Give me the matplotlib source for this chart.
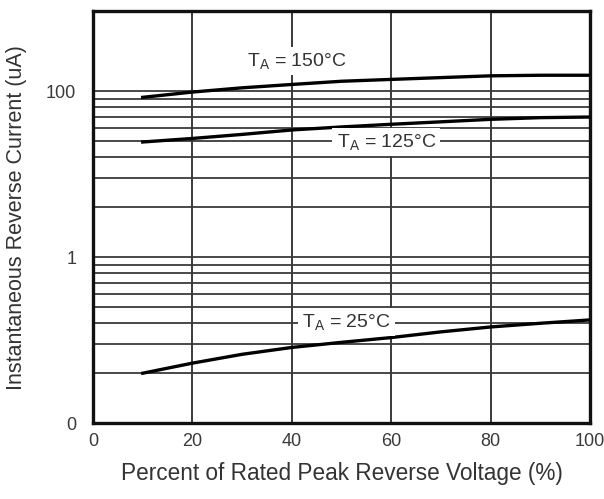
"""Reverse current vs percent of rated peak reverse voltage (datasheet style)."""
import numpy as np
import matplotlib
matplotlib.use("Agg")
import matplotlib.pyplot as plt

plt.rcParams["font.family"] = ["Liberation Sans", "DejaVu Sans"]

# data (y in the chart's log coordinate)
pct = [10, 20, 30, 40, 50, 60, 70, 80, 90, 100]
i_150 = [92, 99, 105, 110, 115, 118, 121, 124, 125, 125]
i_125 = [49.5, 52, 55, 58.5, 61, 63.3, 65.5, 67.8, 69.4, 70]
i_25 = [2.0, 2.3, 2.6, 2.86, 3.07, 3.28, 3.55, 3.8, 4.0, 4.19]

x_ticks = [0, 20, 40, 60, 80, 100]
y_ticks = [1, 10, 100]
y_tick_labels = ["0", "1", "100"]
y_grid = [2, 3, 4, 5, 6, 7, 8, 9, 20, 30, 40, 50, 60, 70, 80, 90]

labels = [r"T$\mathregular{_A}$ = 150°C", r"T$\mathregular{_A}$ = 125°C",
          r"T$\mathregular{_A}$ = 25°C"]
label_pos = [(41, 152), (59, 49.5), (51, 4.05)]

fig = plt.figure(figsize=(6.04, 4.99), dpi=100)
ax = fig.add_axes([0.154, 0.152, 0.823, 0.826])

gc = "#3a3a3a"
for v in y_grid + [10, 100]:
    ax.axhline(v, color=gc, lw=1.3, zorder=1)
for v in x_ticks[1:-1]:
    ax.axvline(v, color=gc, lw=1.4, zorder=1)

for y in (i_150, i_125, i_25):
    ax.plot(pct, y, color="black", lw=2.4, zorder=3)

for txt, (x, y) in zip(labels, label_pos):
    ax.text(x, y, txt, fontsize=14, color="#333333", ha="center", va="center",
            zorder=4, bbox=dict(facecolor="white", edgecolor="none", pad=3))

ax.set_yscale("log")
ax.set_xlim(0, 100)
ax.set_ylim(1, 305)
ax.set_xticks(x_ticks)
ax.set_yticks(y_ticks)
ax.set_yticklabels(y_tick_labels)
ax.yaxis.set_minor_locator(matplotlib.ticker.NullLocator())
ax.tick_params(length=0, labelsize=13, labelcolor="#3a3a3a")
ax.tick_params(axis="y", pad=12)
ax.tick_params(axis="x", pad=7)
for s in ax.spines.values():
    s.set_linewidth(2.4)
    s.set_color("#111111")

ax.set_xlabel("Percent of Rated Peak Reverse Voltage (%)", fontsize=16.3,
              color="#333333", labelpad=9)
ax.set_ylabel("Instantaneous Reverse Current (uA)", fontsize=15.5,
              color="#333333", labelpad=14)

fig.savefig("out.png", dpi=100)
